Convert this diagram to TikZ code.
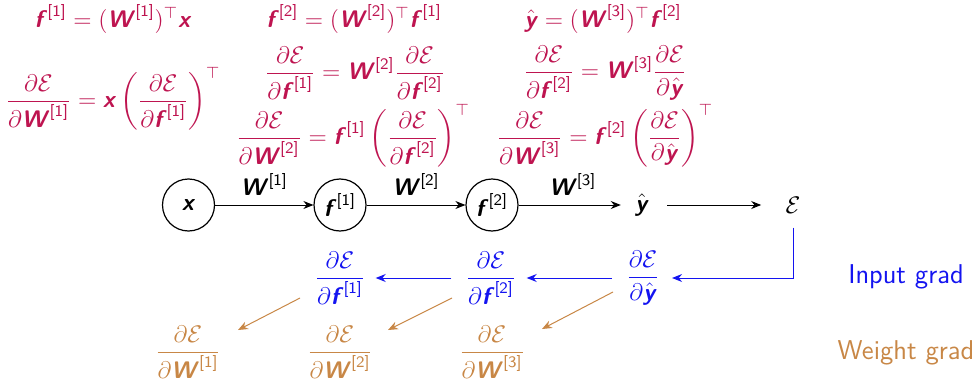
\documentclass[tikz,border=0pt]{standalone}
\usepackage{amsmath,amssymb}
\usetikzlibrary{arrows.meta}
\renewcommand{\familydefault}{\sfdefault}
\definecolor{eqc}{RGB}{190,20,80}
\definecolor{inb}{RGB}{20,20,240}
\definecolor{wgb}{RGB}{200,135,70}
\newcommand{\bv}[1]{\text{\sffamily\bfseries\slshape #1\/}}
\newcommand{\sq}[1]{^{\text{\sffamily[#1]}}}
\newcommand{\dE}{\partial\mathcal{E}}
\newcommand{\yh}{\hat{\bv{y}}}
\tikzset{
  circ/.style={circle,draw,line width=0.6pt,minimum size=26pt,inner sep=0pt,font=\large},
  plain/.style={inner sep=1pt,font=\large},
  eq/.style={text=eqc,inner sep=0pt,font=\large},
  fw/.style={-{Stealth[length=5pt,width=4pt]},line width=0.5pt},
  bk/.style={-{Stealth[length=5pt,width=4pt]},line width=0.5pt,draw=inb},
  wk/.style={-{Stealth[length=5pt,width=4pt]},line width=0.5pt,draw=wgb},
  ig/.style={text=inb,inner sep=1pt,font=\large},
  wg/.style={text=wgb,inner sep=1pt,font=\large},
  legend/.style={font=\fontsize{13.6}{16}\selectfont},
}
\begin{document}
\begin{tikzpicture}[x=0.5pt,y=-0.5pt]
\useasboundingbox (0,0) rectangle (978,385);
% top equations
\node[eq] (e1) at (113,19) {$\bv{f}\sq{1}=(\bv{W}\sq{1})^{\top}\bv{x}$};
\node[eq] (e2) at (354,19) {$\bv{f}\sq{2}=(\bv{W}\sq{2})^{\top}\bv{f}\sq{1}$};
\node[eq] (e3) at (603,19) {$\yh=(\bv{W}\sq{3})^{\top}\bv{f}\sq{2}$};
\node[eq] (e4) at (113,99) {$\dfrac{\dE}{\partial\bv{W}\sq{1}}=\bv{x}\left(\dfrac{\dE}{\partial\bv{f}\sq{1}}\right)^{\top}$};
\node[eq] (e5) at (355,73) {$\dfrac{\dE}{\partial\bv{f}\sq{1}}=\bv{W}\sq{2}\dfrac{\dE}{\partial\bv{f}\sq{2}}$};
\node[eq] (e6) at (353,136) {$\dfrac{\dE}{\partial\bv{W}\sq{2}}=\bv{f}\sq{1}\left(\dfrac{\dE}{\partial\bv{f}\sq{2}}\right)^{\top}$};
\node[eq] (e7) at (605,73) {$\dfrac{\dE}{\partial\bv{f}\sq{2}}=\bv{W}\sq{3}\dfrac{\dE}{\partial\yh}$};
\node[eq] (e8) at (605,136) {$\dfrac{\dE}{\partial\bv{W}\sq{3}}=\bv{f}\sq{2}\left(\dfrac{\dE}{\partial\yh}\right)^{\top}$};
% forward chain
\node[circ] (x) at (188.5,205) {$\bv{x}$};
\node[circ] (f1) at (340,205) {$\bv{f}\sq{1}$};
\node[circ] (f2) at (492,205) {$\bv{f}\sq{2}$};
\node[plain] (y) at (642,205) {$\yh$};
\node[plain] (E) at (793,205) {$\mathcal{E}$};
\draw[fw] (x) -- node[above=1pt,font=\large]{$\bv{W}\sq{1}$} (f1);
\draw[fw] (f1) -- node[above=1pt,font=\large]{$\bv{W}\sq{2}$} (f2);
\draw[fw,shorten >=6pt] (f2.east) -- node[above=1pt,font=\large,xshift=-1.5pt]{$\bv{W}\sq{3}$} (y.west |- f2.east);
\draw[fw,shorten <=8pt,shorten >=11pt] (y.east |- E.west) -- (E.west);
% input grads
\node[ig] (g1) at (340,278) {$\dfrac{\dE}{\partial\bv{f}\sq{1}}$};
\node[ig] (g2) at (491,278) {$\dfrac{\dE}{\partial\bv{f}\sq{2}}$};
\node[ig] (gy) at (643,278) {$\dfrac{\dE}{\partial\yh}$};
\draw[bk,shorten <=6pt,shorten >=5pt] (E.south) |- (gy.east);
\draw[bk,shorten <=6pt,shorten >=4pt] (gy) -- (g2);
\draw[bk,shorten <=6pt,shorten >=4pt] (g2) -- (g1);
% weight grads
\node[wg] (w1) at (188,352) {$\dfrac{\dE}{\partial\bv{W}\sq{1}}$};
\node[wg] (w2) at (340,352) {$\dfrac{\dE}{\partial\bv{W}\sq{2}}$};
\node[wg] (w3) at (492,352) {$\dfrac{\dE}{\partial\bv{W}\sq{3}}$};
\draw[wk] ([shift={(-40,20)}]g1.center) -- ([shift={(50,-22)}]w1.center);
\draw[wk] ([shift={(-39,20)}]g2.center) -- ([shift={(48,-22)}]w2.center);
\draw[wk] ([shift={(-30,14)}]gy.center) -- ([shift={(50,-23)}]w3.center);
% legends
\node[legend,text=inb] (lin) at (906,277) {Input grad};
\node[legend,text=wgb] (lwg) at (906,353) {Weight grad};
\end{tikzpicture}
\end{document}
